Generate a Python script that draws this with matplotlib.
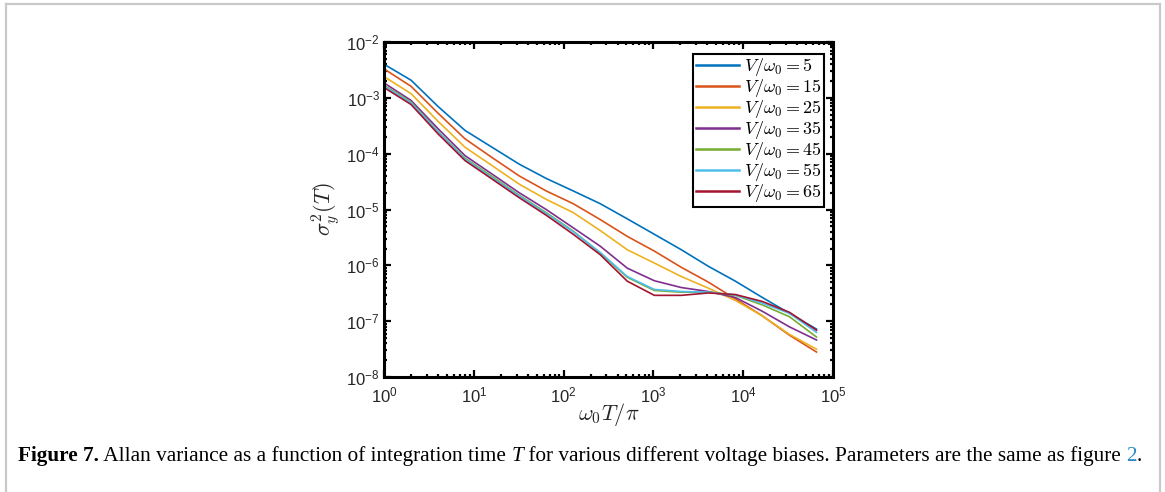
import numpy as np
import matplotlib
matplotlib.use('Agg')
from matplotlib import pyplot as plt
from matplotlib.lines import Line2D

plt.rcParams['mathtext.fontset'] = 'custom'
plt.rcParams['mathtext.rm'] = 'Liberation Sans'
plt.rcParams['mathtext.it'] = 'Liberation Sans:italic'
plt.rcParams['mathtext.bf'] = 'Liberation Sans:bold'
plt.rcParams['font.family'] = ['Liberation Sans', 'DejaVu Sans']

# data: integration time (w0 T / pi) and Allan variance for each bias
T = [1, 2, 4, 8, 16, 32, 64, 128, 256, 512, 1024, 2048, 4096, 8192, 16384, 32768, 65536]
labels = ['5', '15', '25', '35', '45', '55', '65']
v5 = [4.0e-3, 2.07e-3, 7.0e-4, 2.6e-4, 1.3e-4, 6.5e-5, 3.6e-5, 2.15e-5, 1.27e-5, 6.8e-6,
      3.6e-6, 1.9e-6, 9.6e-7, 5.2e-7, 2.65e-7, 1.38e-7, 7.2e-8]
v15 = [3.3e-3, 1.61e-3, 5.3e-4, 1.84e-4, 8.5e-5, 4.0e-5, 2.15e-5, 1.27e-5, 6.6e-6, 3.3e-6,
       1.8e-6, 9.2e-7, 5.0e-7, 2.5e-7, 1.24e-7, 5.6e-8, 2.8e-8]
v25 = [2.4e-3, 1.19e-3, 3.8e-4, 1.3e-4, 6.1e-5, 2.85e-5, 1.52e-5, 8.8e-6, 4.2e-6, 1.9e-6,
       1.1e-6, 6.3e-7, 3.9e-7, 2.35e-7, 1.24e-7, 5.8e-8, 3.15e-8]
v35 = [1.85e-3, 9.0e-4, 2.8e-4, 9.2e-5, 4.3e-5, 2.0e-5, 1.0e-5, 4.7e-6, 2.2e-6, 8.9e-7,
       5.3e-7, 4.0e-7, 3.4e-7, 2.65e-7, 1.5e-7, 7.9e-8, 4.6e-8]
v45 = [1.68e-3, 8.4e-4, 2.5e-4, 8.3e-5, 3.9e-5, 1.8e-5, 8.8e-6, 4.1e-6, 1.66e-6, 6.1e-7,
       3.55e-7, 3.3e-7, 3.3e-7, 2.9e-7, 1.95e-7, 1.2e-7, 5.2e-8]
v55 = [1.62e-3, 8.1e-4, 2.45e-4, 8.0e-5, 3.7e-5, 1.75e-5, 8.5e-6, 4.0e-6, 1.7e-6, 6.3e-7,
       3.7e-7, 3.4e-7, 3.3e-7, 2.95e-7, 2.1e-7, 1.38e-7, 6.3e-8]
v65 = [1.53e-3, 7.6e-4, 2.26e-4, 7.5e-5, 3.5e-5, 1.63e-5, 7.9e-6, 3.6e-6, 1.55e-6, 5.2e-7,
       2.9e-7, 2.9e-7, 3.2e-7, 3.0e-7, 2.25e-7, 1.44e-7, 6.9e-8]
series = [v5, v15, v25, v35, v45, v55, v65]
colors = ['#0072BD', '#D95319', '#EDB120', '#7E2F8E', '#77AC30', '#4DBEEE', '#A2142F']

W, H = 1165, 492
fig = plt.figure(figsize=(W / 100, H / 100), dpi=100)
ax = fig.add_axes([384 / W, 1 - 377 / H, (833 - 384) / W, (377 - 42) / H])

for y, c, lab in zip(series, colors, labels):
    ax.plot(T, y, color=c, lw=1.2, label=r'$V/\omega_0 = %s$' % lab)

ax.set_xscale('log')
ax.set_yscale('log')
ax.set_xlim(1, 1e5)
ax.set_ylim(1e-8, 1e-2)
ax.set_xticks([1, 1e1, 1e2, 1e3, 1e4, 1e5])
ax.set_yticks([1e-8, 1e-7, 1e-6, 1e-5, 1e-4, 1e-3, 1e-2])
for s in ax.spines.values():
    s.set_linewidth(2.2)
ax.tick_params(which='both', direction='in', top=True, right=True, width=1.6,
               labelsize=12, colors='black', labelcolor='#262626')
ax.tick_params(which='major', length=5, pad=3)
ax.tick_params(axis='x', which='major', pad=6)
ax.tick_params(which='minor', length=2.5)

ax.set_xlabel(r'$\omega_0 T/\pi$', fontsize=16, math_fontfamily='cm', color='#262626', labelpad=-3)
ax.set_ylabel(r'$\sigma_y^2(T)$', fontsize=16, math_fontfamily='cm', color='#262626', labelpad=3)

leg = ax.legend(loc='upper right', bbox_to_anchor=(0.98, 0.965), fancybox=False,
                framealpha=1, edgecolor='black', handlelength=2.4, handletextpad=0.25,
                labelspacing=-0.06, borderpad=0.15, borderaxespad=0,
                prop={'size': 13, 'math_fontfamily': 'cm'})
leg.get_frame().set_linewidth(1.5)
for h in leg.get_lines():
    h.set_linewidth(1.8)

# page frame (no bottom edge)
fc = '#c9c9c9'
fig.add_artist(Line2D([5.5 / W, 5.5 / W], [0, 1 - 3.5 / H], color=fc, lw=1.6))
fig.add_artist(Line2D([1159.5 / W, 1159.5 / W], [0, 1 - 3.5 / H], color=fc, lw=1.6))
fig.add_artist(Line2D([5.5 / W, 1159.5 / W], [1 - 3.5 / H, 1 - 3.5 / H], color=fc, lw=1.6))

# caption, pieces placed one after another
pieces = [('Figure 7.', 'bold', 'normal', 'black'),
          (' Allan variance as a function of integration time ', 'normal', 'normal', 'black'),
          ('T', 'normal', 'italic', 'black'),
          (' for various different voltage biases. Parameters are the same as figure ', 'normal', 'normal', 'black'),
          ('2', 'normal', 'normal', '#2b8cc4'),
          ('.', 'normal', 'normal', 'black')]
fig.canvas.draw()
r = fig.canvas.get_renderer()
x = 18 / W
for txt, wt, st, col in pieces:
    t = fig.text(x, 1 - 461 / H, txt, fontsize=15.35, family='Liberation Serif',
                 weight=wt, style=st, color=col, ha='left', va='baseline')
    bb = t.get_window_extent(r)
    x = bb.x1 / W

fig.savefig('out.png', dpi=100)
